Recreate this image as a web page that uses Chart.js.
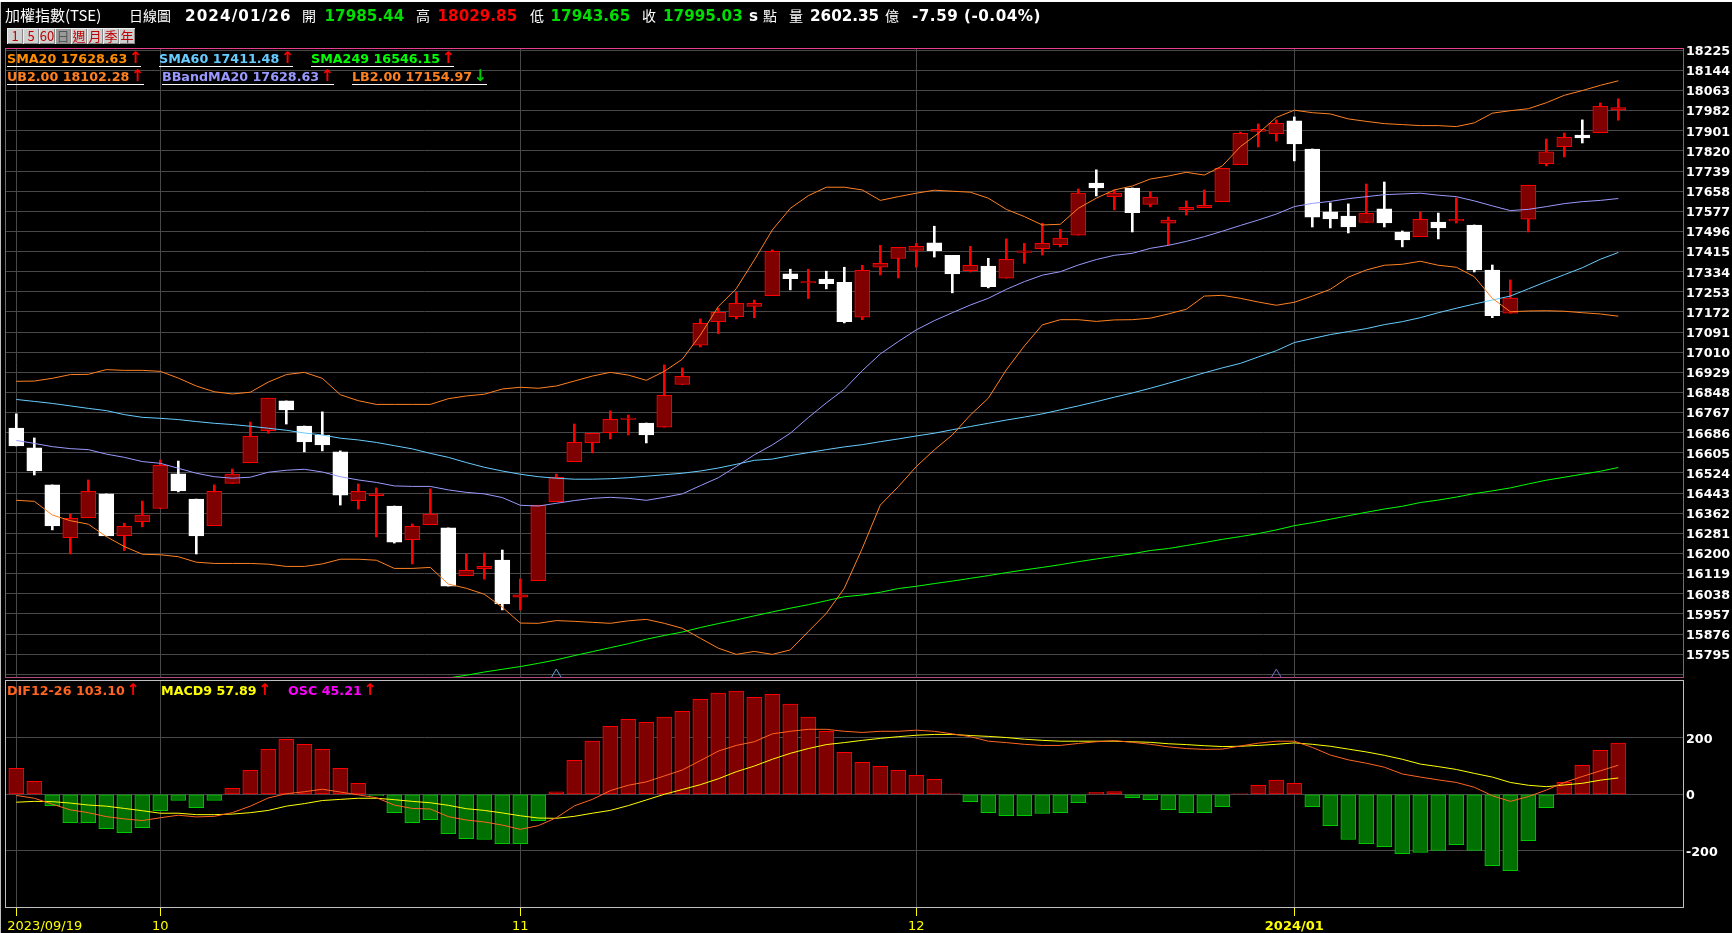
<!DOCTYPE html>
<html><head><meta charset="utf-8"><title>加權指數(TSE) 日線圖</title>
<script src="https://cdn.jsdelivr.net/npm/chart.js@4/dist/chart.umd.min.js"></script>
<style>
html,body{margin:0;padding:0;background:#000;width:1732px;height:933px;overflow:hidden}
canvas{position:absolute;left:0}
.t{position:absolute;white-space:nowrap;line-height:16px;height:16px}
.c{font-family:"Noto Sans CJK TC";font-size:14px;color:#fff;font-weight:400}
.b{font-family:"DejaVu Sans";font-weight:700;font-size:15.2px}
.l{font-family:"DejaVu Sans";font-weight:700;font-size:12.7px;line-height:14px;height:14px}
.u{border-bottom:1px solid #fff}
.up,.dn{font-size:16px;line-height:12px;margin-left:-3px}
.up{color:#f00}.dn{color:#0c0}
.btn{position:absolute;top:28px;height:16px;width:16px;background:#cfcfcf;color:#c00000;font:13px/16px "Noto Sans CJK TC";text-align:center;box-shadow:inset 1px 1px #eee,inset -1px -1px #888}
</style></head><body>
<div style="position:absolute;left:0;top:0;width:1732px;height:2px;background:#fff"></div>
<div style="position:absolute;left:0;top:2px;width:1px;height:931px;background:#c0c0c0"></div>
<canvas id="price" width="1732" height="678" style="top:0"></canvas>
<canvas id="macd" width="1732" height="255" style="top:678px"></canvas>

<span class="t c" style="left:5px;top:7px;font-size:15px">加權指數(TSE)</span>
<span class="t c" style="left:129px;top:7px">日線圖</span>
<span class="t b" style="left:185px;top:7.5px;color:#fff;letter-spacing:1.1px">2024/01/26</span>
<span class="t c" style="left:302px;top:7px">開</span>
<span class="t b" style="left:324.5px;top:7.5px;color:#0d0">17985.44</span>
<span class="t c" style="left:416px;top:7px">高</span>
<span class="t b" style="left:437.5px;top:7.5px;color:#f00">18029.85</span>
<span class="t c" style="left:530px;top:7px">低</span>
<span class="t b" style="left:550.5px;top:7.5px;color:#0d0">17943.65</span>
<span class="t c" style="left:642px;top:7px">收</span>
<span class="t b" style="left:663px;top:7.5px;color:#0d0">17995.03</span>
<span class="t b" style="left:749px;top:7.5px;color:#fff">s</span>
<span class="t c" style="left:763px;top:7px">點</span>
<span class="t c" style="left:789px;top:7px">量</span>
<span class="t b" style="left:810px;top:7.5px;color:#fff">2602.35</span>
<span class="t c" style="left:885px;top:7px">億</span>
<span class="t b" style="left:912px;top:7.5px;color:#fff;letter-spacing:.5px">-7.59 (-0.04%)</span>

<span class="btn" style="left:7px">1</span><span class="btn" style="left:23px">5</span><span class="btn" style="left:39px">60</span><span class="btn" style="left:55px;background:#9a9a9a;color:#555">日</span><span class="btn" style="left:71px">週</span><span class="btn" style="left:87px">月</span><span class="btn" style="left:103px">季</span><span class="btn" style="left:119px">年</span>

<span class="t l u" style="left:7px;top:51.5px;width:134px;color:#ff8c00">SMA20 17628.63 <span class="up">↑</span></span>
<span class="t l u" style="left:159px;top:51.5px;width:134px;color:#66ccff">SMA60 17411.48 <span class="up">↑</span></span>
<span class="t l u" style="left:311px;top:51.5px;width:143px;color:#00ff00">SMA249 16546.15 <span class="up">↑</span></span>
<span class="t l u" style="left:7px;top:69.5px;width:137px;color:#ff8020">UB2.00 18102.28 <span class="up">↑</span></span>
<span class="t l u" style="left:162px;top:69.5px;width:172px;color:#9999ff">BBandMA20 17628.63 <span class="up">↑</span></span>
<span class="t l u" style="left:352px;top:69.5px;width:135px;color:#ff8020">LB2.00 17154.97 <span class="dn">↓</span></span>

<span class="t l" style="left:7px;top:684px;color:#ff6420">DIF12-26 103.10 <span class="up">↑</span></span>
<span class="t l" style="left:161px;top:684px;color:#ffff00">MACD9 57.89 <span class="up">↑</span></span>
<span class="t l" style="left:288px;top:684px;color:#ff00ff">OSC 45.21 <span class="up">↑</span></span>

<script>
const open  = [16705,16625,16476,16264,16344,16440,16272,16328,16381,16521,16419,16312,16482,16566,16694,16814,16713,16677,16609,16413,16433,16391,16256,16316,16303,16111,16139,16174,16024,16091,16409,16570,16646,16686,16740,16725,16708,16880,17038,17133,17153,17194,17238,17325,17289,17304,17291,17151,17352,17387,17420,17450,17400,17338,17357,17308,17412,17427,17443,17481,17691,17636,17671,17605,17529,17584,17592,17616,17765,17899,17890,17941,17828,17575,17558,17532,17587,17494,17475,17534,17538,17522,17341,17167,17545,17769,17837,17884,17894,17985.44];
const high  = [16762,16665,16476,16359,16496,16440,16322,16411,16576,16572,16419,16476,16540,16729,16825,16814,16713,16770,16613,16480,16464,16391,16319,16460,16303,16198,16202,16214,16097,16394,16520,16721,16684,16774,16757,16725,16959,16947,17144,17187,17251,17220,17422,17344,17344,17336,17352,17360,17440,17432,17448,17517,17400,17436,17388,17466,17448,17529,17505,17667,17744,17663,17671,17656,17554,17619,17663,17750,17896,17929,17945,17957,17828,17611,17607,17687,17695,17498,17575,17570,17631,17522,17361,17301,17682,17868,17892,17945,18013,18029.85];
const low   = [16633,16516,16295,16198,16344,16271,16212,16307,16381,16448,16198,16312,16482,16566,16684,16721,16609,16613,16395,16379,16267,16242,16158,16316,16069,16111,16097,15973,15973,16091,16409,16570,16605,16661,16677,16645,16708,16880,17031,17085,17144,17149,17238,17261,17226,17265,17128,17141,17321,17309,17353,17393,17249,17333,17269,17308,17368,17401,17434,17481,17639,17583,17494,17595,17442,17562,17592,17616,17765,17836,17860,17780,17514,17510,17490,17532,17514,17434,17475,17466,17530,17333,17149,17167,17494,17760,17796,17852,17894,17943.65];
const close = [16633,16532,16311,16342,16450,16271,16309,16355,16555,16452,16271,16450,16520,16672,16825,16778,16649,16637,16435,16450,16440,16246,16309,16359,16069,16132,16148,15997,16034,16394,16507,16647,16684,16740,16745,16677,16837,16913,17126,17171,17207,17207,17416,17306,17294,17286,17133,17340,17368,17432,17436,17419,17325,17360,17274,17384,17418,17448,17469,17650,17671,17650,17572,17634,17542,17593,17601,17750,17891,17907,17931,17848,17554,17546,17514,17569,17530,17462,17545,17510,17545,17341,17157,17228,17682,17816,17875,17872,18000,17995.03];
const sma60 = [16820,16812,16804,16794,16784,16775,16759,16748,16744,16739,16731,16724,16719,16712,16704,16696,16685,16677,16664,16657,16647,16634,16621,16603,16587,16566,16547,16532,16519,16509,16503,16499,16499,16501,16505,16511,16517,16523,16532,16544,16559,16575,16580,16594,16606,16618,16629,16638,16650,16661,16673,16684,16698,16711,16724,16737,16749,16762,16778,16794,16811,16829,16846,16865,16885,16906,16927,16947,16965,16991,17016,17049,17065,17081,17093,17105,17121,17133,17149,17169,17187,17204,17220,17236,17265,17294,17322,17350,17384,17411.48];
const bbandMA = [16655,16643,16630,16622,16618,16600,16587,16570,16563,16543,16523,16509,16503,16507,16527,16535,16539,16528,16509,16496,16486,16472,16470,16470,16456,16446,16440,16425,16394,16391,16402,16413,16422,16426,16422,16414,16426,16440,16473,16505,16550,16597,16637,16684,16747,16806,16861,16936,17003,17053,17100,17137,17169,17200,17227,17263,17294,17320,17334,17361,17383,17400,17408,17428,17440,17456,17475,17497,17520,17542,17566,17596,17609,17617,17628,17636,17644,17647,17650,17642,17636,17619,17599,17580,17585,17596,17608,17616,17621,17628.63];
const upperBand = [16893,16894,16905,16920,16921,16940,16937,16937,16933,16906,16874,16851,16842,16849,16890,16920,16929,16905,16839,16815,16800,16800,16800,16800,16823,16834,16841,16862,16869,16865,16874,16894,16914,16929,16918,16897,16933,16982,17079,17194,17266,17381,17502,17589,17640,17674,17674,17663,17621,17636,17650,17662,17658,17654,17630,17585,17556,17522,17525,17589,17630,17663,17679,17707,17719,17734,17723,17760,17837,17891,17955,17984,17974,17969,17949,17939,17930,17926,17922,17922,17918,17933,17972,17982,17990,18014,18044,18063,18084,18102.28];
const lowerBand = [16414,16410,16355,16332,16318,16268,16228,16197,16195,16187,16165,16160,16160,16160,16157,16148,16148,16158,16177,16177,16173,16140,16140,16144,16077,16060,16036,15984,15920,15919,15930,15927,15923,15919,15929,15935,15919,15899,15859,15819,15794,15806,15794,15812,15886,15959,16060,16221,16395,16469,16550,16617,16677,16757,16825,16939,17035,17120,17141,17141,17134,17140,17141,17147,17164,17183,17236,17239,17227,17212,17199,17211,17236,17263,17312,17341,17360,17364,17376,17360,17352,17314,17227,17173,17176,17177,17175,17169,17164,17154.97];
const sma249 = [null,null,null,null,null,null,null,null,null,null,null,null,null,null,null,null,null,null,null,null,null,null,null,null,15699,15710,15723,15734,15745,15758,15772,15789,15805,15821,15837,15855,15870,15884,15902,15918,15933,15949,15965,15980,15994,16010,16026,16033,16044,16059,16068,16079,16089,16100,16111,16123,16134,16144,16155,16167,16178,16189,16199,16212,16220,16232,16244,16257,16268,16280,16295,16312,16324,16338,16352,16366,16379,16390,16405,16415,16427,16441,16452,16464,16480,16495,16507,16519,16531,16546.15];
const osc = [92,46,-40,-100,-100,-122,-136,-118,-58,-22,-47,-22,21,85,159,195,177,159,92,39,-5,-65,-100,-90,-139,-157,-160,-175,-175,-93,9,120,188,241,265,255,273,294,336,358,365,343,354,319,273,223,149,113,99,85,67,53,3,-26,-65,-76,-76,-68,-65,-30,7,10,-12,-19,-54,-65,-65,-44,3,32,50,39,-44,-111,-160,-175,-185,-210,-206,-199,-178,-199,-253,-270,-164,-47,42,103,156,181];
const dif = [-4,-14,-35,-55,-65,-79,-87,-93,-83,-74,-80,-78,-65,-42,-13,2,9,18,8,-2,-12,-38,-50,-52,-79,-91,-98,-109,-124,-111,-83,-41,-18,13,32,44,65,86,119,153,173,186,214,223,230,230,223,219,223,223,227,223,214,204,188,183,177,173,173,180,186,190,184,177,168,162,159,160,171,181,188,188,166,139,122,110,96,72,61,51,42,25,-5,-25,-8,15,42,63,83,103.1];
const macd = [-28,-25,-26,-31,-38,-42,-50,-58,-67,-67,-72,-72,-70,-65,-57,-42,-33,-22,-18,-14,-14,-19,-25,-30,-39,-51,-57,-66,-76,-84,-85,-78,-67,-57,-40,-20,0,17,34,55,80,100,124,145,162,176,183,191,198,204,209,212,212,208,205,201,195,191,188,188,188,188,186,184,179,176,172,169,170,173,177,182,177,170,160,150,138,124,107,98,88,74,61,42,32,27,33,39,50,57.89];
const markerIdx = [30,70];
const markerValue = [15707,15707];
const priceTicks = [18225,18144,18063,17982,17901,17820,17739,17658,17577,17496,17415,17334,17253,17172,17091,17010,16929,16848,16767,16686,16605,16524,16443,16362,16281,16200,16119,16038,15957,15876,15795,15714];
const macdTicks = [200,0,-200];
const monthIdx = [0,8,28,50,71];
const monthLabels = ['2023/09/19','10','11','12','2024/01'];

const GRID = '#484848';
const pts = a => a.map((v,i)=>({x:i,y:v}));
const setTicks = list => s => { s.ticks = list.map(v=>({value:v})); };
const xRange = {min:(5-16.3)/18, max:(1683-16.3)/18, offset:false};
const rightAxis = s => { s.width = 49; s.paddingTop = 0; s.paddingBottom = 0; };
const frame = {
  id:'frame',
  afterDatasetsDraw(c,_a,o){
    const a=c.chartArea, g=c.ctx;
    g.save(); g.strokeStyle=o.color; g.lineWidth=1;
    g.strokeRect(Math.round(a.left)+.5,Math.round(a.top)+.5,Math.round(a.right-a.left),Math.round(a.bottom-a.top));
    if(o.top){g.strokeStyle=o.top;g.beginPath();g.moveTo(a.left,Math.round(a.top)+.5);g.lineTo(a.right,Math.round(a.top)+.5);g.stroke();}
    g.restore();
  }
};
const firstLabel = {
  id:'firstLabel',
  beforeDraw(c){
    const s=c.scales.x; if(!s.options.ticks.display) return;
    const it=s.getLabelItems()[0];
    if(it){ it.options.textAlign='left'; it.options.translation[0]=s.getPixelForValue(0)-9; }
  }
};
const line = (data,color,order=1,w=1)=>({type:'line',data:pts(data),borderColor:color,borderWidth:w,pointRadius:0,tension:0,order,spanGaps:false});

new Chart(document.getElementById('price'),{
  type:'bar',
  data:{datasets:[
    line(upperBand,'#ff8020'),
    line(lowerBand,'#ff8020'),
    line(bbandMA,'#9999ff'),
    line(sma60,'#66ccff'),
    line(sma249,'#00ff00'),
    {type:'scatter',data:markerIdx.map((x,i)=>({x,y:markerValue[i]})),pointStyle:'triangle',pointRadius:7,pointBorderWidth:1,
     pointBorderColor:['#55a5e0','#7070d0'],pointBackgroundColor:'transparent',order:1},
    {label:'body',data:open.map((o,i)=>({x:i,y:[o,close[i]]})),grouped:false,barPercentage:1,categoryPercentage:1,maxBarThickness:15,
     borderSkipped:false,borderWidth:1,
     backgroundColor:c=>close[c.dataIndex]>=open[c.dataIndex]?'#800000':'#ffffff',
     borderColor:c=>close[c.dataIndex]>=open[c.dataIndex]?'#ff0000':'#ffffff',order:2},
    {label:'wick',data:low.map((l,i)=>({x:i,y:[l,high[i]]})),grouped:false,barPercentage:1,categoryPercentage:1,maxBarThickness:2,
     borderSkipped:false,borderWidth:0,
     backgroundColor:c=>close[c.dataIndex]>=open[c.dataIndex]?'#ff0000':'#ffffff',order:3}
  ]},
  options:{
    responsive:false,animation:false,events:[],devicePixelRatio:1,
    layout:{autoPadding:false,padding:{left:5,top:48,bottom:1,right:0}},
    plugins:{legend:{display:false},tooltip:{enabled:false},frame:{color:'#b04a80',top:'#e8408c'}},
    scales:{
      x:{type:'linear',...xRange,afterBuildTicks:setTicks(monthIdx),
         afterFit:s=>{s.height=0;s.paddingLeft=0;s.paddingRight=0;},
         ticks:{display:false},grid:{color:GRID,drawTicks:false,offset:false},border:{display:false}},
      y:{position:'right',min:15703,max:18234.3,afterBuildTicks:setTicks(priceTicks),afterFit:rightAxis,
         ticks:{autoSkip:false,padding:3,labelOffset:1.5,color:'#fff',crossAlign:'near',font:{family:'DejaVu Sans',weight:'bold',size:12.7},
                callback:v=>v===15714?'':String(v)},
         grid:{color:GRID,drawTicks:false},border:{display:false}}
    }
  },
  plugins:[frame]
});

new Chart(document.getElementById('macd'),{
  type:'bar',
  data:{datasets:[
    line(dif,'#ff6420'),
    line(macd,'#ffff00'),
    {label:'OSC',data:pts(osc),grouped:false,barPercentage:1,categoryPercentage:1,maxBarThickness:15,borderSkipped:false,borderWidth:1,
     backgroundColor:c=>osc[c.dataIndex]>=0?'#800000':'#007000',
     borderColor:c=>osc[c.dataIndex]>=0?'#ff0000':'#00c800',order:2}
  ]},
  options:{
    responsive:false,animation:false,events:[],devicePixelRatio:1,
    layout:{autoPadding:false,padding:{left:5,top:2,bottom:0,right:0}},
    plugins:{legend:{display:false},tooltip:{enabled:false},frame:{color:'#c0c0c0'}},
    scales:{
      x:{type:'linear',...xRange,afterBuildTicks:setTicks(monthIdx),
         afterFit:s=>{s.height=26;s.paddingLeft=0;s.paddingRight=0;},
         ticks:{display:true,autoSkip:false,maxRotation:0,minRotation:0,padding:3,color:'#ffff00',
                font:c=>({family:'DejaVu Sans',size:13,weight:c.tick&&c.tick.value===71?'bold':'normal'}),
                callback:v=>monthLabels[monthIdx.indexOf(v)]},
         grid:{color:GRID,drawTicks:true,tickLength:9,tickColor:'#ffff00',offset:false},border:{display:false}},
      y:{position:'right',min:-398.9,max:404.6,afterBuildTicks:setTicks(macdTicks),afterFit:rightAxis,
         ticks:{autoSkip:false,padding:3,labelOffset:1.5,color:'#fff',crossAlign:'near',font:{family:'DejaVu Sans',weight:'bold',size:12.7},
                callback:v=>String(v)},
         grid:{color:GRID,drawTicks:false},border:{display:false}}
    }
  },
  plugins:[frame,firstLabel]
});
</script>
</body></html>
